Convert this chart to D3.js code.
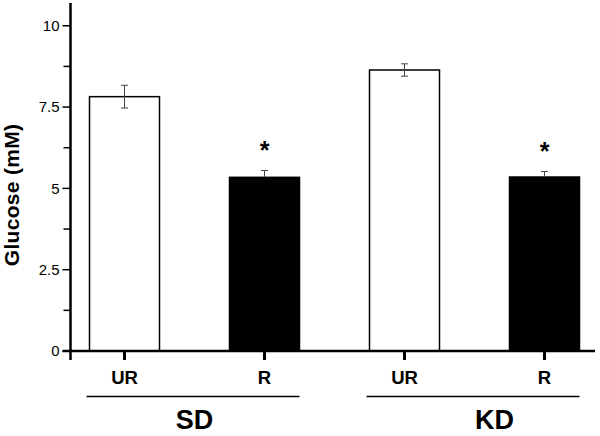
<!DOCTYPE html>
<html>
<head>
<meta charset="utf-8">
<script src="https://cdn.jsdelivr.net/npm/d3@7"></script>
<style>
  body { margin: 0; background: #fff; }
  svg text { font-family: "Liberation Sans", Arial, Helvetica, sans-serif; fill: #000; }
</style>
</head>
<body>
<div id="chart"></div>
<script>
// values
const groups = ["SD", "KD"]
const conditions = ["UR", "R"]
const means = [7.82, 5.34, 8.64, 5.35]
const errors = [0.35, 0.21, 0.19, 0.17]
const signif = [false, true, false, true]
const major_ticks = [0, 2.5, 5, 7.5, 10]
const minor_ticks = [1.25, 3.75, 6.25, 8.75]
const tick_labels = ["0", "2.5", "5", "7.5", "10"]

const width = 600, height = 436

let svg = d3.select("#chart")
    .append("svg")
    .attr("width", width)
    .attr("height", height)

let bars = []
groups.forEach(function (g, gi) {
    conditions.forEach(function (c, ci) {
        const i = gi * conditions.length + ci
        bars.push({key: g + "_" + c, group: g, cond: c, mean: means[i], err: errors[i], star: signif[i]})
    })
})

const x = d3.scaleBand()
    .domain(bars.map(d => d.key))
    .range([72, 597])
    .paddingInner(0.5)
    .paddingOuter(0.125)

const y = d3.scaleLinear()
    .domain([0, 10.7])
    .range([351, 3])

const x_left = 70.5

// bars
svg.selectAll("rect.bar")
    .data(bars)
    .enter()
    .append("rect")
    .attr("class", "bar")
    .attr("x", d => x(d.key))
    .attr("y", d => y(d.mean))
    .attr("width", x.bandwidth())
    .attr("height", d => y(0) - y(d.mean))
    .attr("fill", d => d.cond === "R" ? "#000" : "#fff")
    .attr("stroke", "#000")
    .attr("stroke-width", 1.5)

// error bars
const cap = 3.5
bars.forEach(function (d) {
    const cx = x(d.key) + x.bandwidth() / 2
    const lo = d.cond === "R" ? d.mean : d.mean - d.err
    const eb = svg.append("g")
        .attr("stroke", "#444")
        .attr("stroke-width", 1)
    eb.append("line")
        .attr("x1", cx).attr("x2", cx)
        .attr("y1", y(d.mean + d.err)).attr("y2", y(lo))
    eb.append("line")
        .attr("x1", cx - cap).attr("x2", cx + cap)
        .attr("y1", y(d.mean + d.err)).attr("y2", y(d.mean + d.err))
    if (d.cond !== "R") {
        eb.append("line")
            .attr("x1", cx - cap).attr("x2", cx + cap)
            .attr("y1", y(lo)).attr("y2", y(lo))
    }
    if (d.star) {
        svg.append("text")
            .attr("x", cx)
            .attr("y", y(d.mean + d.err) - 11)
            .attr("text-anchor", "middle")
            .style("font-size", "25px")
            .style("font-weight", "bold")
            .text("*")
    }
})

// y axis
svg.append("line")
    .attr("x1", x_left).attr("x2", x_left)
    .attr("y1", y(10.7)).attr("y2", y(0) + 9)
    .attr("stroke", "#000")
    .attr("stroke-width", 2.5)

svg.selectAll("line.major")
    .data(major_ticks)
    .enter()
    .append("line")
    .attr("x1", x_left - 8).attr("x2", x_left)
    .attr("y1", d => y(d)).attr("y2", d => y(d))
    .attr("stroke", "#000")
    .attr("stroke-width", 1.5)

svg.selectAll("line.minor")
    .data(minor_ticks)
    .enter()
    .append("line")
    .attr("x1", x_left - 7).attr("x2", x_left)
    .attr("y1", d => y(d)).attr("y2", d => y(d))
    .attr("stroke", "#000")
    .attr("stroke-width", 1.5)

svg.selectAll("text.ytick")
    .data(major_ticks)
    .enter()
    .append("text")
    .attr("x", x_left - 11)
    .attr("y", d => y(d))
    .attr("dy", "0.36em")
    .attr("text-anchor", "end")
    .style("font-size", "15px")
    .text((d, i) => tick_labels[i])

svg.append("text")
    .attr("transform", "translate(19," + 195 + ") rotate(-90)")
    .attr("text-anchor", "middle")
    .style("font-size", "21px")
    .style("font-weight", "bold")
    .style("letter-spacing", "0.3px")
    .text("Glucose (mM)")

// x axis
svg.append("line")
    .attr("x1", x_left - 8).attr("x2", 595)
    .attr("y1", y(0)).attr("y2", y(0))
    .attr("stroke", "#000")
    .attr("stroke-width", 2.5)

svg.selectAll("line.xtick")
    .data(bars)
    .enter()
    .append("line")
    .attr("x1", d => x(d.key) + x.bandwidth() / 2)
    .attr("x2", d => x(d.key) + x.bandwidth() / 2)
    .attr("y1", y(0)).attr("y2", y(0) + 9)
    .attr("stroke", "#000")
    .attr("stroke-width", 3)

svg.selectAll("text.xtick")
    .data(bars)
    .enter()
    .append("text")
    .attr("x", d => x(d.key) + x.bandwidth() / 2)
    .attr("y", 384)
    .attr("text-anchor", "middle")
    .style("font-size", "18.5px")
    .style("font-weight", "bold")
    .text(d => d.cond)

// group lines and labels
groups.forEach(function (g, gi) {
    const first = x(g + "_" + conditions[0])
    const last = x(g + "_" + conditions[conditions.length - 1]) + x.bandwidth()
    svg.append("line")
        .attr("x1", first - 3).attr("x2", last)
        .attr("y1", 396.5).attr("y2", 396.5)
        .attr("stroke", "#000")
        .attr("stroke-width", 1.5)
    svg.append("text")
        .attr("x", (first + last) / 2 + (gi === 1 ? 20 : 0))
        .attr("y", 429)
        .attr("text-anchor", "middle")
        .style("font-size", "27px")
        .style("font-weight", "bold")
        .text(g)
})
</script>
</body>
</html>
